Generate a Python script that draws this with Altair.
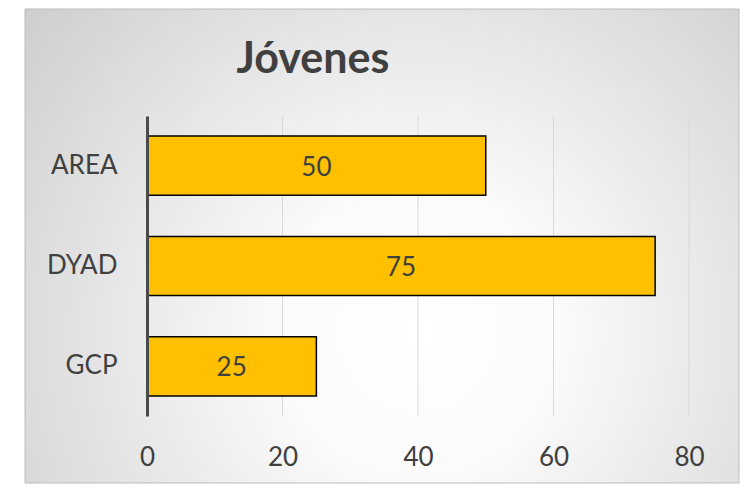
import altair as alt
import pandas as pd

categories = ["AREA", "DYAD", "GCP"]
values = [50, 75, 25]
x_ticks = [0, 20, 40, 60, 80]
grid_values = [20, 40, 60, 80]
title_text = "Jóvenes"

df = pd.DataFrame({"cat": categories, "val": values})
gdf = pd.DataFrame({"g": grid_values})

FONT = "Lato"
TXT = "#404040"

bg = alt.Chart(pd.DataFrame({"a": [0]})).mark_rect(
    fill=alt.Gradient(
        gradient="radial",
        x1=0.55, y1=0.62, r1=0.0,
        x2=0.55, y2=0.62, r2=0.78,
        stops=[
            alt.GradientStop(color="#ffffff", offset=0.0),
            alt.GradientStop(color="#fbfbfb", offset=0.25),
            alt.GradientStop(color="#c8c8c8", offset=1.0),
        ],
    ),
    stroke="#bcbcbc",
    strokeWidth=1,
).encode(
    x=alt.value(-122), x2=alt.value(592),
    y=alt.value(-107), y2=alt.value(367),
)

x_scale = alt.Scale(domain=[0, 80], nice=False)
x_axis = alt.Axis(values=x_ticks, labelFont=FONT, labelFontSize=26,
                  labelColor=TXT, labelPadding=28, ticks=False,
                  labelFlush=False, labelOverlap=False,
                  domain=False, grid=False, zindex=1)

grid = alt.Chart(gdf).mark_rule(color="#d9d9d9", strokeWidth=1).encode(
    x=alt.X("g:Q", scale=x_scale, axis=x_axis, title=None),
    y=alt.value(0), y2=alt.value(300),
)

y_enc = alt.Y("cat:N", sort=categories, title=None,
              scale=alt.Scale(paddingInner=0.41, paddingOuter=0.2),
              axis=alt.Axis(labelFont=FONT, labelFontSize=26, labelColor=TXT,
                            labelPadding=30, ticks=False, domain=True,
                            domainColor="#4a4a4a", domainWidth=3, grid=False,
                            zindex=1))
x_enc = alt.X("val:Q", title=None, scale=x_scale, axis=x_axis)

bars = alt.Chart(df).mark_bar(color="#FFC000", stroke="#000000",
                              strokeWidth=1.5).encode(x=x_enc, y=y_enc)

labels = alt.Chart(df).transform_calculate(mid="datum.val / 2").mark_text(
    font=FONT, fontSize=26, color=TXT, baseline="middle", dy=2
).encode(x=alt.X("mid:Q", scale=x_scale, axis=x_axis, title=None),
         y=alt.Y("cat:N", sort=categories), text="val:Q")

title = alt.Chart(pd.DataFrame({"t": [title_text]})).mark_text(
    font=FONT, fontSize=43, fontWeight="bold", color=TXT, baseline="middle"
).encode(text="t:N", x=alt.value(166), y=alt.value(-56))

chart = alt.layer(bg, grid, bars, labels, title).properties(
    width=542, height=300,
    autosize=alt.AutoSizeParams(type="none"),
    padding={"left": 139, "top": 108, "right": 52, "bottom": 68},
).configure_view(stroke=None).configure(background="#ffffff")

chart.save("out.html", embed_options={"renderer": "svg", "actions": False})
